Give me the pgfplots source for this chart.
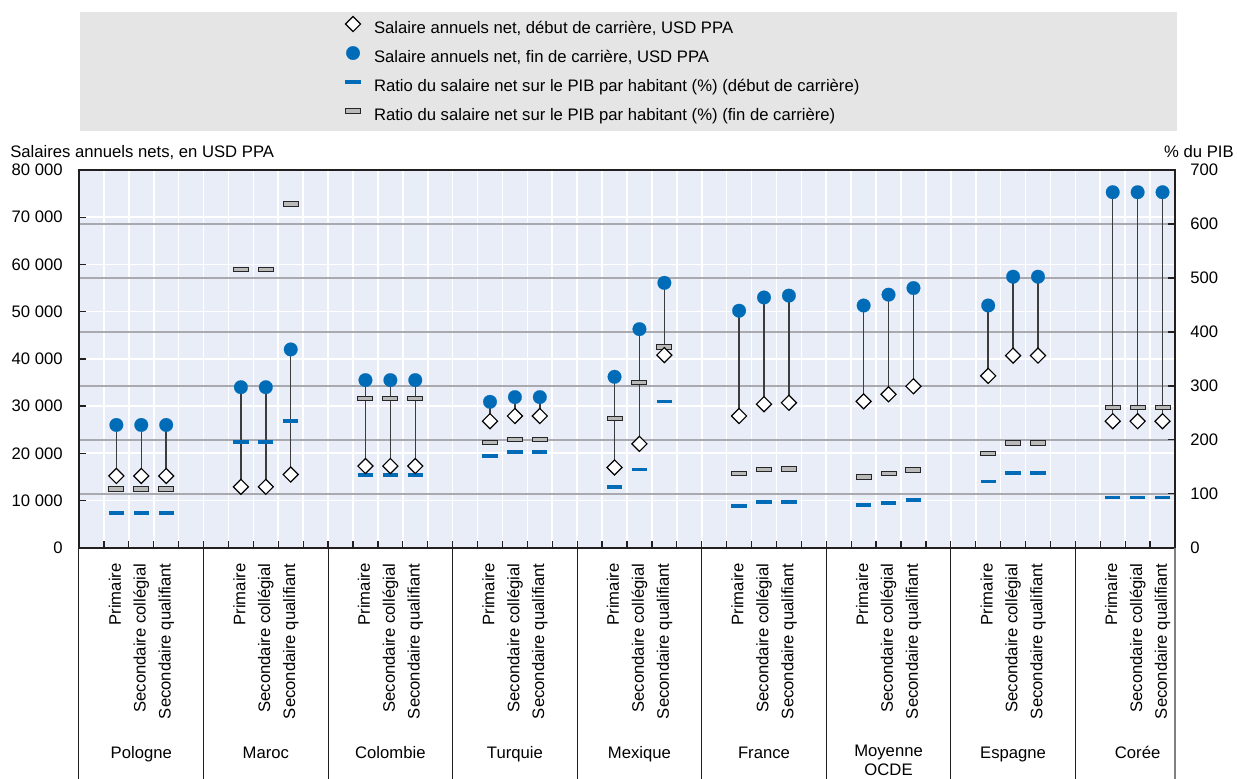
\documentclass[border=0pt]{standalone}
\usepackage{fontspec}
\setmainfont{Liberation Sans}
\usepackage{pgfplots}
\usepackage{pgfplotstable}
\pgfplotsset{compat=1.18}
\definecolor{plotbg}{RGB}{232,237,247}
\definecolor{oecdblue}{RGB}{0,108,184}
\definecolor{gridgray}{RGB}{168,170,175}
\definecolor{leggray}{RGB}{229,229,230}
\definecolor{bargray}{RGB}{185,185,185}
\definecolor{stemcol}{RGB}{60,60,60}
\definecolor{axiscol}{RGB}{35,31,32}

\pgfdeclareplotmark{hbar}{%
 \pgfpathrectangle{\pgfpoint{-\pgfplotmarksize}{-0.28\pgfplotmarksize}}{\pgfpoint{2\pgfplotmarksize}{0.56\pgfplotmarksize}}%
 \pgfusepathqfillstroke}

\pgfplotsset{
 legimg/.style={legend image code/.code={\path[draw=none, fill=none] (-6pt,-3pt) rectangle (6pt,8pt); \draw[##1] plot coordinates {(0pt,3.2pt)};}},
 mdiam/.style={only marks, mark=square*, mark size=3.2pt, mark options={rotate=45, fill=white, draw=black, line width=0.7pt}},
 mdot/.style={only marks, mark=*, mark size=4.1pt, mark options={fill=oecdblue, draw=oecdblue, line width=0.1pt}},
 mbblue/.style={only marks, mark=-, mark size=4.6pt, mark options={draw=oecdblue, line width=2.2pt}},
 mgbar/.style={only marks, mark=hbar, mark size=4.5pt, mark options={fill=bargray, draw=black!85, line width=0.6pt}},
}

% x: slot position; deb/fin: net annual salary (USD PPP); rdeb/rfin: ratio to GDP per capita (%)
\pgfplotstableread{
x deb fin rdeb rfin
1 15200 26000 64 109
2 15200 26000 64 109
3 15200 26000 64 109
6 12900 34000 196 515
7 12900 34000 196 515
8 15500 42000 235 637
11 17300 35500 135 276
12 17300 35500 135 276
13 17300 35500 135 276
16 26800 30900 170 195
17 27900 31900 177 200
18 27900 31900 177 200
21 17000 36200 112 240
22 22000 46300 145 306
23 40800 56100 271 372
26 27900 50200 77 138
27 30400 53000 85 145
28 30700 53400 85 146
31 31000 51300 79 131
32 32500 53600 83 137
33 34200 55000 88 144
36 36400 51300 123 174
37 40700 57400 138 194
38 40700 57400 138 194
41 26800 75300 93 260
42 26800 75300 93 260
43 26800 75300 93 260
}\data

\begin{document}
\begin{tikzpicture}
\fill[leggray] (48pt,-7.2pt) rectangle (706.2pt,-78.6pt);
\node[anchor=base west, inner sep=0pt] at (6pt,-94.2pt) {Salaires annuels nets, en USD PPA};
\node[anchor=base east, inner sep=0pt] at (740.4pt,-94.2pt) {\% du PIB};

% right axis (% du PIB) with background and grids
\begin{axis}[
 at={(47.4pt,-328.62pt)}, anchor=south west,
 scale only axis, width=657.6pt, height=226.62pt,
 xmin=-0.5, xmax=43.5, ymin=0, ymax=700,
 axis background/.style={fill=plotbg},
 axis line style={draw=axiscol, line width=1.2pt},
 xtick={0.5,1.5,...,42.5}, xticklabels={}, xtick pos=left,
 ytick={0,100,...,700}, yticklabels={0,100,200,300,400,500,600,700},
 ytick pos=right, yticklabel pos=right,
 yticklabel style={anchor=west, inner sep=0pt, xshift=9pt},
 tick align=inside, major tick length=4pt,
 tick style={draw=axiscol, line width=0.8pt},
 xmajorgrids=true, ymajorgrids=true,
 x grid style={white, line width=1pt},
 y grid style={gridgray, line width=0.9pt},
 extra y ticks={87.5,175,262.5,350,437.5,525,612.5},
 extra y tick labels={},
 extra y tick style={grid=major, y grid style={white, line width=1pt}, major grid style={white, line width=1pt}, tick style={draw=none}},
]
\end{axis}

% left axis (salaries) with the data
\begin{axis}[
 at={(47.4pt,-328.62pt)}, anchor=south west,
 scale only axis, width=657.6pt, height=226.62pt,
 xmin=-0.5, xmax=43.5, ymin=0, ymax=80000,
 clip=false, scaled y ticks=false,
 axis line style={draw=axiscol, line width=1.2pt},
 ytick={0,10000,...,80000},
 yticklabels={0,10 000,20 000,30 000,40 000,50 000,60 000,70 000,80 000},
 ytick pos=left,
 yticklabel style={anchor=east, inner sep=0pt, xshift=-9.6pt},
 tick align=inside, major tick length=4pt,
 ytick style={draw=axiscol, line width=0.8pt},
 xtick={1,2,3,6,7,8,11,12,13,16,17,18,21,22,23,26,27,28,31,32,33,36,37,38,41,42,43},
 xticklabels={Primaire,Secondaire collégial,Secondaire qualifiant,Primaire,Secondaire collégial,Secondaire qualifiant,Primaire,Secondaire collégial,Secondaire qualifiant,Primaire,Secondaire collégial,Secondaire qualifiant,Primaire,Secondaire collégial,Secondaire qualifiant,Primaire,Secondaire collégial,Secondaire qualifiant,Primaire,Secondaire collégial,Secondaire qualifiant,Primaire,Secondaire collégial,Secondaire qualifiant,Primaire,Secondaire collégial,Secondaire qualifiant},
 xtick style={draw=none},
 xticklabel style={rotate=90, anchor=mid east, inner sep=0pt},
 xticklabel shift=9.2pt,
 legend style={at={(axis description cs:0.2409,1.4077)}, anchor=north west, draw=none, fill=none,
   inner sep=0pt, outer sep=0pt, row sep=3.9pt, column sep=6.6pt,
   nodes={inner sep=0pt, text height=8pt, text depth=3pt}},
 legend cell align=left,
]
\addlegendimage{mdiam, legimg}
\addlegendentry{Salaire annuels net, début de carrière, USD PPA}
\addlegendimage{mdot, legimg}
\addlegendentry{Salaire annuels net, fin de carrière, USD PPA}
\addlegendimage{mbblue, legimg}
\addlegendentry{Ratio du salaire net sur le PIB par habitant (\%) (début de carrière)}
\addlegendimage{mgbar, legimg}
\addlegendentry{Ratio du salaire net sur le PIB par habitant (\%) (fin de carrière)}

% stems
\addplot[forget plot, draw=none, mark=none,
  error bars/.cd, y dir=plus, y explicit, error mark=none,
  error bar style={draw=stemcol, line width=0.9pt, solid}]
  table[x=x, y=deb, y error expr=\thisrow{fin}-\thisrow{deb}] {\data};
% ratios (in %, mapped onto the right axis scale)
\addplot[forget plot, mgbar, y filter/.expression={y*800/7}] table[x=x, y=rfin] {\data};
\addplot[forget plot, mbblue, y filter/.expression={y*800/7}] table[x=x, y=rdeb] {\data};
% salaries
\addplot[forget plot, mdiam] table[x=x, y=deb] {\data};
\addplot[forget plot, mdot] table[x=x, y=fin] {\data};

% group separators below the axis
\pgfplotsinvokeforeach{-0.5,4.5,9.5,14.5,19.5,24.5,29.5,34.5,39.5}{
  \draw[axiscol, line width=0.6pt] (axis cs:#1,0) -- ([yshift=-140pt]axis cs:#1,0);
}
\draw[gray, line width=0.8pt] (axis cs:43.5,0) -- ([yshift=-140pt]axis cs:43.5,0);

% group names
\node[anchor=base, inner sep=0pt] at ([yshift=-126.2pt]axis cs:2,0) {Pologne};
\node[anchor=base, inner sep=0pt] at ([yshift=-126.2pt]axis cs:7,0) {Maroc};
\node[anchor=base, inner sep=0pt] at ([yshift=-126.2pt]axis cs:12,0) {Colombie};
\node[anchor=base, inner sep=0pt] at ([yshift=-126.2pt]axis cs:17,0) {Turquie};
\node[anchor=base, inner sep=0pt] at ([yshift=-126.2pt]axis cs:22,0) {Mexique};
\node[anchor=base, inner sep=0pt] at ([yshift=-126.2pt]axis cs:27,0) {France};
\node[anchor=base, inner sep=0pt] at ([yshift=-125.4pt]axis cs:32,0) {Moyenne};
\node[anchor=base, inner sep=0pt] at ([yshift=-136.8pt]axis cs:32,0) {OCDE};
\node[anchor=base, inner sep=0pt] at ([yshift=-126.2pt]axis cs:37,0) {Espagne};
\node[anchor=base, inner sep=0pt] at ([yshift=-126.2pt]axis cs:42,0) {Corée};
\end{axis}
\pgfresetboundingbox
\useasboundingbox (0pt,0pt) rectangle (742.2pt,-466.8pt);
\end{tikzpicture}
\end{document}
